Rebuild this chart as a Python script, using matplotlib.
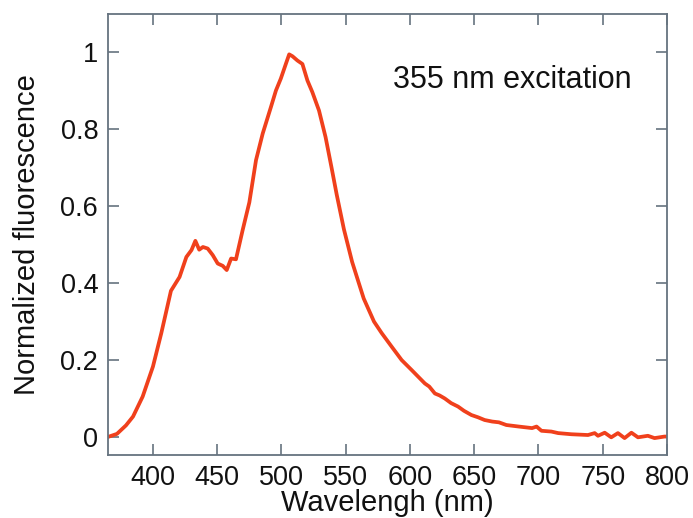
import matplotlib
matplotlib.use("Agg")
import matplotlib.pyplot as plt

wavelength = [365, 372, 379, 384.5, 392, 400, 406.5, 414, 420.7, 426, 430, 433, 436, 438.9,
              442.6, 446.5, 450.4, 454.3, 457.4, 460.8, 464.6, 469.8, 475, 480.2, 485.4,
              491.8, 495.7, 499.5, 503.4, 506, 508.6, 512.4, 516.3, 520.2, 524, 529.2,
              534.3, 539, 543, 548.6, 555, 560.2, 564, 568, 572, 578, 585.7, 593.5,
              601.3, 606, 611.6, 615, 619.4, 623, 627.1, 632, 637.4, 642, 647.8, 653,
              658.1, 664, 669.2, 675, 684.7, 695, 698.5, 702.3, 710, 715.3, 725.6, 738.5,
              743.7, 746.3, 751.5, 756.6, 761.8, 767, 772.3, 777.4, 785.1, 790.3, 798, 800]
fluorescence = [0.0, 0.008, 0.03, 0.053, 0.105, 0.183, 0.27, 0.38, 0.416, 0.468, 0.486, 0.51,
                0.487, 0.494, 0.49, 0.473, 0.451, 0.445, 0.434, 0.464, 0.462, 0.538, 0.61,
                0.72, 0.789, 0.858, 0.901, 0.932, 0.97, 0.995, 0.99, 0.979, 0.97, 0.927,
                0.897, 0.849, 0.78, 0.70, 0.63, 0.54, 0.455, 0.40, 0.36, 0.33, 0.30, 0.27,
                0.235, 0.2, 0.174, 0.158, 0.139, 0.131, 0.113, 0.108, 0.1, 0.088, 0.079,
                0.068, 0.057, 0.051, 0.044, 0.040, 0.038, 0.031, 0.027, 0.023, 0.027, 0.016,
                0.014, 0.01, 0.007, 0.005, 0.01, 0.003, 0.011, -0.001, 0.01, -0.003, 0.011,
                -0.001, 0.003, -0.003, 0.001, 0.001]

xticks = [400, 450, 500, 550, 600, 650, 700, 750, 800]
yticks = [0, 0.2, 0.4, 0.6, 0.8, 1]
ytick_labels = ["0", "0.2", "0.4", "0.6", "0.8", "1"]

plt.rcParams['font.family'] = ['Liberation Sans', 'DejaVu Sans']

fig = plt.figure(figsize=(6.93, 5.18), dpi=100)
fig.patch.set_facecolor('white')
ax = fig.add_axes([0.1558, 0.1216, 0.8067, 0.8514])

ax.plot(wavelength, fluorescence, color='#f0401c', lw=2.7, solid_joinstyle='round')

ax.set_xlim(365, 800)
ax.set_ylim(-0.047, 1.10)
ax.set_xticks(xticks)
ax.set_yticks(yticks)
ax.set_yticklabels(ytick_labels)

spine_color = '#66737f'
for s in ax.spines.values():
    s.set_color(spine_color)
    s.set_linewidth(1.3)
ax.tick_params(direction='in', length=8, width=1.2, color=spine_color,
               top=True, right=True, labelsize=19.5, pad=7, labelcolor='#111111')

ax.set_xlabel("Wavelengh (nm)", fontsize=21, labelpad=-1, color='#111111')
ax.set_ylabel("Normalized fluorescence", fontsize=21, labelpad=14, color='#111111')

ax.text(0.723, 0.850, "355 nm excitation", transform=ax.transAxes, fontsize=22,
        ha='center', va='center', color='#111111')

fig.savefig("out.png", dpi=100)
